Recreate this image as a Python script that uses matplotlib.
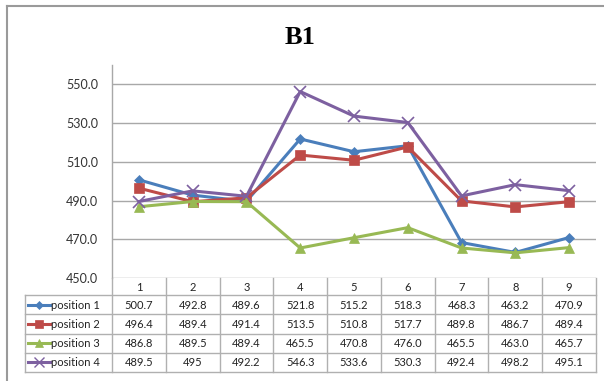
import matplotlib.pyplot as plt
from matplotlib.lines import Line2D

# Data for chart B1
positions = [1, 2, 3, 4, 5, 6, 7, 8, 9]
pos1 = [500.7, 492.8, 489.6, 521.8, 515.2, 518.3, 468.3, 463.2, 470.9]
pos2 = [496.4, 489.4, 491.4, 513.5, 510.8, 517.7, 489.8, 486.7, 489.4]
pos3 = [486.8, 489.5, 489.4, 465.5, 470.8, 476.0, 465.5, 463.0, 465.7]
pos4 = [489.5, 495, 492.2, 546.3, 533.6, 530.3, 492.4, 498.2, 495.1]
names = ["position 1", "position 2", "position 3", "position 4"]
yticks = [450, 470, 490, 510, 530, 550]

series = [pos1, pos2, pos3, pos4]
colors = ["#4A7EBB", "#BE4B48", "#98B954", "#7D60A0"]
markers = ["D", "s", "^", "x"]
msizes = [5, 7, 7, 8]

W, H = 604, 381
fig = plt.figure(figsize=(W / 100, H / 100), dpi=100)
fig.patch.set_facecolor("white")

# plot area in pixel coordinates
px_left, px_right, px_top, px_bottom = 112, 596, 65, 278
ax = fig.add_axes([px_left / W, 1 - px_bottom / H,
                   (px_right - px_left) / W, (px_bottom - px_top) / H])

for vals, c, m, ms in zip(series, colors, markers, msizes):
    ax.plot(positions, vals, color=c, lw=2.2, marker=m, ms=ms,
            mec=c, mfc=c, mew=1.2 if m == "x" else 0.5, zorder=3)

ax.set_xlim(0.5, 9.5)
ax.set_ylim(450, 560)
ax.set_yticks(yticks)
ax.set_yticklabels([f"{v:.1f}" for v in yticks], fontsize=9, family="Lato", color="#333333")
ax.set_xticks([])
ax.tick_params(axis="y", length=0, pad=10)
ax.grid(axis="y", color="#A8A8A8", lw=1.0)
ax.set_axisbelow(True)
for s in ["top", "right", "bottom"]:
    ax.spines[s].set_visible(False)
ax.spines["left"].set_color("#A8A8A8")
ax.spines["left"].set_linewidth(1.0)

# overlay in pixel coordinates for the data table and border
ov = fig.add_axes([0, 0, 1, 1], zorder=5)
ov.set_xlim(0, W)
ov.set_ylim(H, 0)
ov.axis("off")
ov.patch.set_alpha(0)

ov.text(300, 37, "B1", ha="center", va="center", fontsize=19,
        fontweight="bold", family="Liberation Serif")

# chart frame
ov.plot([7, 7], [6, H], color="#9A9A9A", lw=1.5)
ov.plot([7, W], [6, 6], color="#9A9A9A", lw=1.5)

grid_c = "#B0B0B0"
col_w = (px_right - px_left) / len(positions)
label_left = 25
head_top = px_bottom
rows = [295, 314.3, 333.5, 352.8, 372]

for i in range(len(positions) + 1):
    x = px_left + i * col_w
    ov.plot([x, x], [head_top, rows[-1]], color=grid_c, lw=1.0)
ov.plot([label_left, label_left], [rows[0], rows[-1]], color=grid_c, lw=1.0)
for y in rows:
    ov.plot([label_left, px_right], [y, y], color=grid_c, lw=1.0)

for i, p in enumerate(positions):
    ov.text(px_left + (i + 0.5) * col_w, (head_top + rows[0]) / 2 + 1, str(p),
            ha="center", va="center", fontsize=8, family="Lato", color="#222222")

for r, (vals, name, c, m, ms) in enumerate(zip(series, names, colors, markers, msizes)):
    yc = (rows[r] + rows[r + 1]) / 2
    ov.add_line(Line2D([28, 50], [yc, yc], color=c, lw=2.2))
    ov.plot([39], [yc], marker=m, ms=ms - 1, color=c, mew=1.0 if m == "x" else 0.5)
    ov.text(51, yc + 0.5, name, ha="left", va="center", fontsize=8,
            family="Lato", color="#222222")
    for i, v in enumerate(vals):
        ov.text(px_left + (i + 0.5) * col_w, yc + 0.5, str(v), ha="center",
                va="center", fontsize=8, family="Lato", color="#222222")

fig.savefig("out.png", dpi=100)
